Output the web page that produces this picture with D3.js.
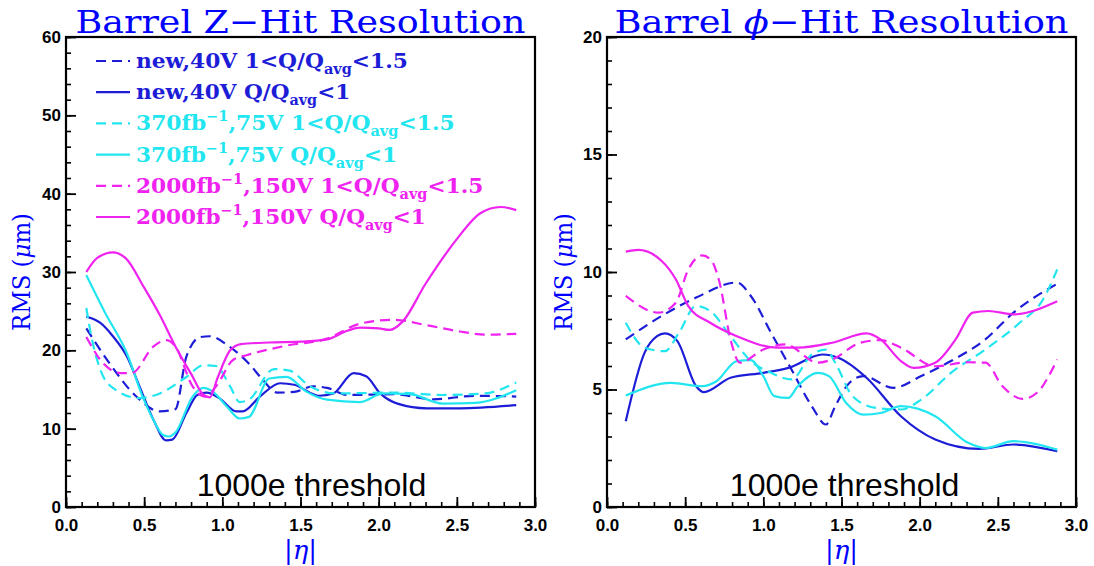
<!DOCTYPE html>
<html>
<head>
<meta charset="utf-8">
<script src="https://cdn.jsdelivr.net/npm/d3@7"></script>
<style>
  body { margin: 0; background: #fff; }
  text { font-family: "Liberation Sans", Arial, sans-serif; }
</style>
</head>
<body>
<svg id="chart" width="1094" height="566"></svg>
<script>
// values: [|eta|, RMS in um]
var zNewHi = [[0.13,22.8],[0.28,18.3],[0.45,14.1],[0.6,12.2],[0.7,12.5],[0.77,19.2],[0.86,21.7],[0.92,21.8],[1.05,20.4],[1.18,18.1],[1.26,16.2],[1.35,14.6],[1.46,14.7],[1.58,15.4],[1.67,15.2],[1.8,14.3],[2.1,14.4],[2.35,13.75],[2.62,14.2],[2.88,14.1]];
var zNewLo = [[0.13,24.3],[0.22,23.5],[0.3,21.8],[0.39,19.2],[0.47,15.4],[0.56,11.1],[0.64,8.5],[0.68,8.6],[0.77,12],[0.84,14.3],[0.9,14.6],[0.98,13.9],[1.09,12.2],[1.13,12.2],[1.24,14.1],[1.37,15.8],[1.46,15.6],[1.62,14.2],[1.71,14.5],[1.84,17.1],[1.92,16.7],[2.01,14.5],[2.12,13.2],[2.31,12.6],[2.52,12.6],[2.88,13.0]];
var z370Hi = [[0.13,25.4],[0.16,22],[0.22,17.5],[0.3,15.2],[0.47,13.9],[0.6,14.5],[0.77,16.6],[0.88,18.1],[0.96,18.0],[1.05,15.4],[1.11,13.4],[1.17,13.7],[1.33,17.6],[1.43,17.4],[1.56,15.4],[1.73,14.5],[2.1,14.6],[2.41,14.3],[2.68,14.5],[2.88,15.9]];
var z370Lo = [[0.13,29.6],[0.25,24.8],[0.39,19.6],[0.49,14.1],[0.56,11.1],[0.62,9.2],[0.66,9.0],[0.7,9.5],[0.81,14.1],[0.88,15.2],[0.94,14.7],[1.03,12.8],[1.11,11.3],[1.17,11.5],[1.3,16.4],[1.41,16.6],[1.54,14.7],[1.67,13.7],[1.88,13.4],[2.03,14.5],[2.2,14.4],[2.41,13.2],[2.62,13.3],[2.88,14.9]];
var z2000Hi = [[0.13,21.7],[0.24,18.3],[0.35,17.1],[0.42,17.1],[0.56,20.5],[0.64,21.3],[0.7,20.5],[0.81,15.4],[0.89,14.1],[0.96,15.4],[1.07,18.8],[1.16,19.4],[1.41,20.6],[1.67,21.5],[1.88,23.4],[2.09,23.9],[2.31,23.2],[2.52,22.4],[2.69,22.0],[2.88,22.1]];
var z2000Lo = [[0.13,30],[0.2,31.8],[0.3,32.5],[0.38,31.8],[0.5,28],[0.6,24.5],[0.7,20.5],[0.8,17],[0.88,14.3],[0.92,14],[0.97,16.5],[1.05,20],[1.12,20.8],[1.3,21],[1.5,21.1],[1.67,21.4],[1.8,22.5],[1.88,22.9],[2.0,22.8],[2.07,22.6],[2.15,23.6],[2.3,28.5],[2.5,34.2],[2.65,37.5],[2.78,38.3],[2.88,37.9]];

var phiNewHi = [[0.12,7.13],[0.35,8.13],[0.57,8.91],[0.83,9.55],[0.92,8.98],[1.05,7.41],[1.18,5.85],[1.31,4.29],[1.4,3.51],[1.46,4.29],[1.55,5.28],[1.64,5.57],[1.83,5.07],[2.01,5.57],[2.2,6.21],[2.42,7.13],[2.6,8.27],[2.88,9.5]];
var phiNewLo = [[0.12,3.65],[0.24,6.56],[0.32,7.27],[0.37,7.39],[0.45,7.06],[0.57,5.14],[0.62,4.89],[0.79,5.5],[1.0,5.71],[1.16,5.92],[1.38,6.49],[1.48,6.35],[1.66,5.5],[1.88,3.86],[2.1,2.87],[2.38,2.47],[2.6,2.66],[2.88,2.37]];
var phi370Hi = [[0.12,7.84],[0.24,6.78],[0.37,6.63],[0.46,7.41],[0.57,8.55],[0.66,8.34],[0.79,7.27],[0.92,6.21],[1.05,5.71],[1.18,5.43],[1.31,6.49],[1.4,6.7],[1.46,6.14],[1.57,4.72],[1.72,4.22],[1.88,4.15],[2.01,4.57],[2.2,5.71],[2.42,6.7],[2.64,7.84],[2.79,8.84],[2.88,10.11]];
var phi370Lo = [[0.12,4.74],[0.41,5.28],[0.61,5.14],[0.7,5.35],[0.83,6.21],[0.92,6.25],[1.0,5.57],[1.07,4.72],[1.16,4.64],[1.22,5.14],[1.35,5.71],[1.42,5.57],[1.53,4.43],[1.64,3.93],[1.75,4.0],[1.88,4.29],[2.1,3.86],[2.31,2.73],[2.42,2.51],[2.6,2.8],[2.88,2.44]];
var phi2000Hi = [[0.12,8.98],[0.33,8.27],[0.44,8.69],[0.52,10.11],[0.61,10.71],[0.67,10.47],[0.72,9.55],[0.79,7.13],[0.85,6.14],[1.0,6.7],[1.14,6.92],[1.35,6.14],[1.44,6.28],[1.62,6.99],[1.75,7.1],[1.88,6.78],[2.1,5.99],[2.31,6.16],[2.42,6.14],[2.53,5.14],[2.66,4.6],[2.75,4.86],[2.88,6.28]];
var phi2000Lo = [[0.12,10.87],[0.2,10.94],[0.35,10.47],[0.44,9.69],[0.52,8.55],[0.66,7.84],[0.83,7.27],[1.09,6.78],[1.22,6.78],[1.44,6.99],[1.66,7.39],[1.75,7.13],[1.88,6.21],[1.96,5.92],[2.1,6.14],[2.23,7.13],[2.34,8.27],[2.44,8.34],[2.6,8.2],[2.88,8.76]];

var xTicks = [0, 0.5, 1.0, 1.5, 2.0, 2.5, 3.0];
var zTicks = [0, 10, 20, 30, 40, 50, 60];
var phiTicks = [0, 5, 10, 15, 20];

// legend text pieces: [text, 'sub' | 'sup' | undefined]
var legendLabels = [
  [['new,40V 1<Q/Q'], ['avg', 'sub'], ['<1.5']],
  [['new,40V Q/Q'], ['avg', 'sub'], ['<1']],
  [['370fb'], ['\u22121', 'sup'], [',75V 1<Q/Q'], ['avg', 'sub'], ['<1.5']],
  [['370fb'], ['\u22121', 'sup'], [',75V Q/Q'], ['avg', 'sub'], ['<1']],
  [['2000fb'], ['\u22121', 'sup'], [',150V 1<Q/Q'], ['avg', 'sub'], ['<1.5']],
  [['2000fb'], ['\u22121', 'sup'], [',150V Q/Q'], ['avg', 'sub'], ['<1']]
];

var lineColors = ['#1d1dd8', '#1d1dd8', '#22e6ef', '#22e6ef', '#ef22ef', '#ef22ef'];
var lineDashed = [true, false, true, false, true, false];

var svg = d3.select('#chart');
var plotTop = 37, plotW = 469, plotH = 470;
var serif = '"DejaVu Serif", "Liberation Serif", serif';

function styleAxis(a, w) {
  a.select('.domain').remove();
  a.selectAll('line').attr('stroke-width', w);
  a.selectAll('text').attr('font-size', 17).attr('font-weight', 'bold').attr('fill', '#000')
    .style('font-family', '"Liberation Sans", Arial, sans-serif');
}

function drawPanel(p) {
  var g = svg.append('g').attr('transform', 'translate(' + p.left + ',' + plotTop + ')');
  var x = d3.scaleLinear().domain([0, 3]).range([0, plotW]);
  var y = d3.scaleLinear().domain([0, p.yMax]).range([plotH, 0]);

  // minor ticks
  g.append('g')
    .attr('transform', 'translate(0,' + plotH + ')')
    .call(d3.axisBottom(x).tickValues(d3.range(0, 3.001, 0.1)).tickSize(-5).tickFormat(''))
    .call(styleAxis, 1.6);
  g.append('g')
    .call(d3.axisLeft(y).tickValues(d3.range(0, p.yMax + 0.001, p.yMinor)).tickSize(-5).tickFormat(''))
    .call(styleAxis, 1.6);

  // major ticks + labels
  g.append('g')
    .attr('transform', 'translate(0,' + plotH + ')')
    .call(d3.axisBottom(x).tickValues(xTicks).tickSize(-10).tickPadding(12).tickFormat(d3.format('.1f')))
    .call(styleAxis, 1.8);
  g.append('g')
    .call(d3.axisLeft(y).tickValues(p.ticks).tickSize(-10).tickPadding(5))
    .call(styleAxis, 1.8);

  // frame
  g.append('rect').attr('width', plotW).attr('height', plotH)
    .attr('fill', 'none').attr('stroke', '#000').attr('stroke-width', 2.2);

  var line = d3.line()
    .x(function(d) { return x(d[0]); })
    .y(function(d) { return y(d[1]); })
    .curve(d3.curveMonotoneX);

  p.series.forEach(function(s, i) {
    g.append('path').datum(s)
      .attr('d', line)
      .attr('fill', 'none')
      .attr('stroke', lineColors[i])
      .attr('stroke-width', 2.2)
      .attr('stroke-dasharray', lineDashed[i] ? '10,6' : null);
  });

  // panel title
  var t = g.append('text')
    .attr('x', plotW / 2).attr('y', -4)
    .attr('text-anchor', 'middle')
    .attr('fill', '#0000ff')
    .attr('textLength', p.titleLen).attr('lengthAdjust', 'spacingAndGlyphs')
    .style('font-family', serif)
    .style('font-size', '32px');
  p.title.forEach(function(piece) {
    var ts = t.append('tspan').text(piece[0]);
    if (piece[1] === 'greek') ts.style('font-style', 'italic');
  });

  g.append('text')
    .attr('transform', 'translate(' + (p.yTitleX - p.left) + ',' + (plotH / 2) + ') rotate(-90)')
    .attr('text-anchor', 'middle')
    .attr('dy', '0.35em')
    .attr('fill', '#0000ff')
    .attr('textLength', 118).attr('lengthAdjust', 'spacingAndGlyphs')
    .style('font-family', serif)
    .style('font-size', '24px')
    .html('RMS (<tspan font-style="italic">\u03bc</tspan>m)');

  g.append('text')
    .attr('x', plotW / 2).attr('y', plotH + 52)
    .attr('text-anchor', 'middle')
    .attr('fill', '#0000ff')
    .style('font-family', serif)
    .style('font-size', '26px')
    .html('|<tspan font-style="italic">\u03b7</tspan>|');

  g.append('text')
    .attr('x', x(p.noteX)).attr('y', plotH - 11)
    .attr('text-anchor', 'middle')
    .attr('fill', '#000')
    .style('font-size', '32px')
    .text('1000e threshold');

  return g;
}

var zPanel = drawPanel({
  left: 66, yMax: 60, yMinor: 2, ticks: zTicks, yTitleX: 22, noteX: 1.57, titleLen: 450,
  title: [['Barrel Z\u2212Hit Resolution']],
  series: [zNewHi, zNewLo, z370Hi, z370Lo, z2000Hi, z2000Lo]
});

drawPanel({
  left: 607, yMax: 20, yMinor: 1, ticks: phiTicks, yTitleX: 564, noteX: 1.52, titleLen: 454,
  title: [['Barrel '], ['\u03d5', 'greek'], ['\u2212Hit Resolution']],
  series: [phiNewHi, phiNewLo, phi370Hi, phi370Lo, phi2000Hi, phi2000Lo]
});

// legend in the Z panel
var leg = zPanel.append('g').attr('class', 'legend');
legendLabels.forEach(function(parts, i) {
  var row = leg.append('g').attr('transform', 'translate(30,' + (24 + i * 31.2) + ')');
  row.append('line').attr('x1', 0).attr('x2', 34).attr('y1', 0).attr('y2', 0)
    .attr('stroke', lineColors[i]).attr('stroke-width', 2.2)
    .attr('stroke-dasharray', lineDashed[i] ? '10,6' : null);
  var txt = row.append('text').attr('x', 40).attr('y', 7)
    .attr('fill', lineColors[i])
    .style('font-family', '"Liberation Mono", "Courier New", monospace')
    .style('font-weight', 'bold')
    .style('font-size', '24px');
  var shift = 0;
  parts.forEach(function(pc) {
    var ts = txt.append('tspan').text(pc[0]);
    var want = pc[1] === 'sub' ? 6 : (pc[1] === 'sup' ? -9 : 0);
    ts.attr('dy', want - shift);
    shift = want;
    if (pc[1]) ts.style('font-size', '15px');
  });
  // keep the monospace width but draw it in a serif face like the original
  var w = txt.node().getComputedTextLength();
  txt.style('font-family', serif).style('font-size', '21px')
    .attr('textLength', w).attr('lengthAdjust', 'spacingAndGlyphs');
  txt.selectAll('tspan').filter(function(d, j) { return parts[j][1]; }).style('font-size', '14px');
});
</script>
</body>
</html>
